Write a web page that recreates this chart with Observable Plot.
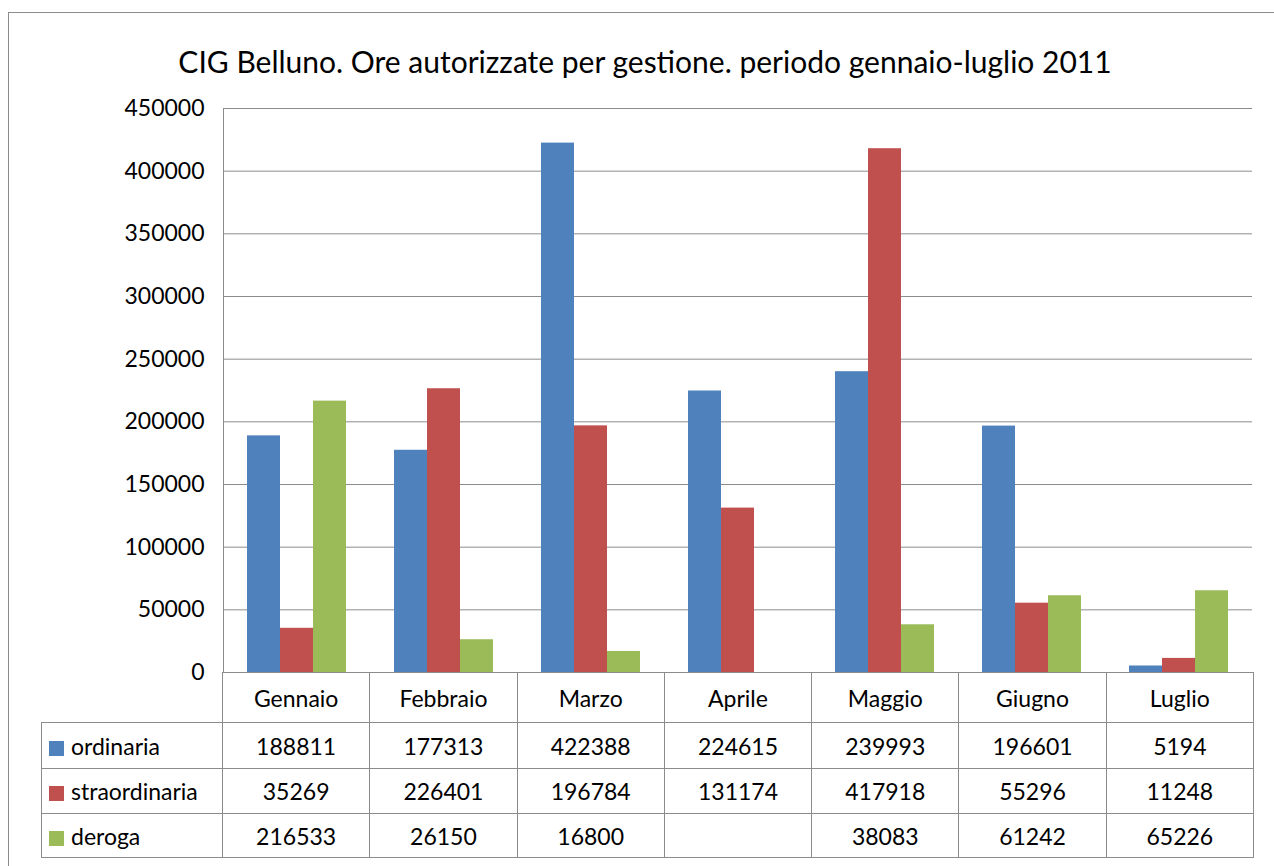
<!DOCTYPE html>
<html><head><meta charset="utf-8">
<script src="https://cdn.jsdelivr.net/npm/d3@7"></script>
<script src="https://cdn.jsdelivr.net/npm/@observablehq/plot@0.6"></script>
<style>
body{margin:0;background:#fff;overflow:hidden;}
#wrap{position:relative;width:1274px;height:866px;overflow:hidden;font-family:Lato,"Open Sans",sans-serif;color:#000;}
#frame{position:absolute;left:8px;top:12px;width:1300px;height:900px;border:1px solid #8c8c8c;box-sizing:border-box;}
#title{position:absolute;left:0;width:1290px;top:46px;line-height:30px;text-align:center;font-size:30px;}
#chart{position:absolute;left:0;top:0;}
#tbl{position:absolute;left:41px;top:672px;border-collapse:collapse;table-layout:fixed;font-size:23px;width:1212px;}
#tbl td{border:1px solid #8c8c8c;text-align:center;padding:0;white-space:nowrap;}
#tbl td.blank{border:none;}
#tbl td.lab{text-align:left;}
.sw{display:inline-block;width:15px;height:15px;margin:0 7px 0 7px;vertical-align:-1px;}
</style>
</head><body>
<div id="wrap">
  <div id="frame"></div>
  <div id="chart"></div>
  <div id="title"></div>
  <table id="tbl"></table>
</div>
<script>
const titleText = "CIG Belluno. Ore autorizzate per gestione. periodo gennaio-luglio 2011";
const months = ["Gennaio","Febbraio","Marzo","Aprile","Maggio","Giugno","Luglio"];
const series = ["ordinaria","straordinaria","deroga"];
const ordinaria = [188811,177313,422388,224615,239993,196601,5194];
const straordinaria = [35269,226401,196784,131174,417918,55296,11248];
const deroga = [216533,26150,16800,null,38083,61242,65226];
const colors = ["#4F81BD","#C0504D","#9BBB59"];
const yTicks = [0,50000,100000,150000,200000,250000,300000,350000,400000,450000];

const valuesBySeries = {ordinaria, straordinaria, deroga};
const rows = [];
months.forEach((m, i) => series.forEach(s => {
  const v = valuesBySeries[s][i];
  if (v != null) rows.push({month: m, series: s, value: v});
}));

document.getElementById("title").textContent = titleText;

const chart = Plot.plot({
  width: 1274, height: 866,
  marginLeft: 222, marginRight: 21, marginTop: 108, marginBottom: 194,
  fx: {domain: months, padding: 0, axis: null},
  x: {domain: series, paddingInner: 0, paddingOuter: 0.7, axis: null},
  y: {domain: [0, 450000], axis: null},
  color: {domain: series, range: colors},
  style: {fontFamily: "Lato, 'Open Sans', sans-serif", fontSize: "23px", color: "#000", background: "transparent", overflow: "visible"},
  marks: [
    Plot.gridY(yTicks, {stroke: "#8c8c8c", strokeOpacity: 1}),
    Plot.axisY(yTicks, {tickSize: 0, tickPadding: 19, label: null, tickFormat: d => String(d), fontSize: 23, fill: "#000"}),
    Plot.barY(rows, {fx: "month", x: "series", y: "value", fill: "series", inset: 0}),
    Plot.frame({anchor: "left", stroke: "#8c8c8c", fx: () => months[0]})
  ]
});
document.getElementById("chart").appendChild(chart);

// data table below the chart
const tbl = document.getElementById("tbl");
const cg = document.createElement("colgroup");
cg.innerHTML = `<col style="width:181px">` + months.map(() => `<col style="width:${1031/7}px">`).join("");
tbl.appendChild(cg);
const heights = [50, 46, 45, 44];
const head = document.createElement("tr");
head.style.height = heights[0] + "px";
head.innerHTML = `<td class="blank"></td>` + months.map(m => `<td>${m}</td>`).join("");
tbl.appendChild(head);
series.forEach((s, k) => {
  const tr = document.createElement("tr");
  tr.style.height = heights[k + 1] + "px";
  tr.innerHTML = `<td class="lab"><span class="sw" style="background:${colors[k]}"></span>${s}</td>` +
    valuesBySeries[s].map(v => `<td>${v == null ? "" : v}</td>`).join("");
  tbl.appendChild(tr);
});
</script>
</body></html>
